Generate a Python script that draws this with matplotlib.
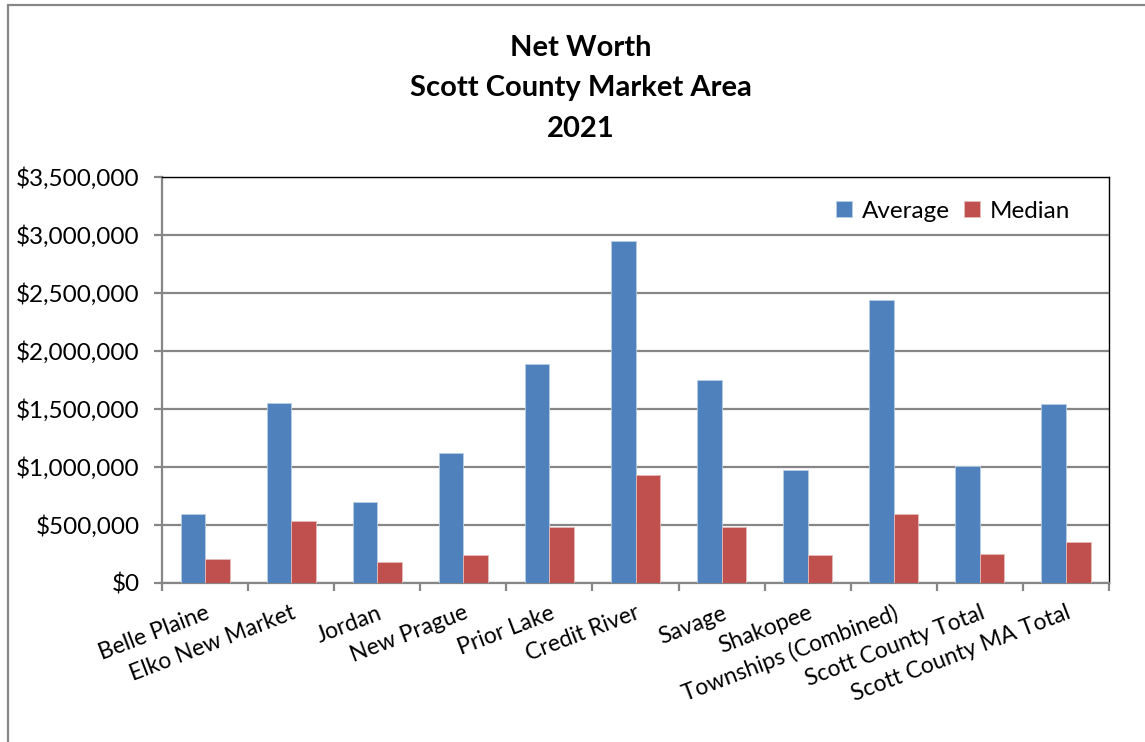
import matplotlib.pyplot as plt
import numpy as np
from matplotlib.ticker import FuncFormatter
from matplotlib.patches import Rectangle

plt.rcParams['font.family'] = ['Lato', 'DejaVu Sans']

# Datos
categorias = ['Belle Plaine', 'Elko New Market', 'Jordan', 'New Prague', 'Prior Lake',
              'Credit River', 'Savage', 'Shakopee', 'Townships (Combined)',
              'Scott County Total', 'Scott County MA Total']
promedio = [592000, 1550000, 696000, 1121000, 1890000, 2946000, 1753000, 974000,
            2440000, 1006000, 1546000]
mediana = [204000, 534000, 181000, 239000, 480000, 928000, 483000, 239000,
           595000, 250000, 353000]
ticks_y = [0, 500000, 1000000, 1500000, 2000000, 2500000, 3000000, 3500000]

azul = '#4F81BD'
rojo = '#C0504D'
gris = '#868686'

fig = plt.figure(figsize=(11.45, 7.42), dpi=100)
ax = fig.add_axes([0.1415, 0.2143, 0.9686 - 0.1415, 0.7615 - 0.2143])

x = np.arange(len(categorias))
ancho = 0.285
ax.bar(x - ancho / 2, promedio, ancho, color=azul, edgecolor='#B9CDE5', linewidth=0.6,
       label='Average', zorder=3)
ax.bar(x + ancho / 2, mediana, ancho, color=rojo, edgecolor='#E6B9B8', linewidth=0.6,
       label='Median', zorder=3)

ax.set_xlim(-0.5, len(categorias) - 0.5)
ax.set_ylim(0, 3500000)
ax.set_yticks(ticks_y)
ax.yaxis.set_major_formatter(FuncFormatter(lambda v, p: '${:,.0f}'.format(v)))
ax.grid(axis='y', color=gris, linewidth=1.6, zorder=0)

ax.set_xticks(x)
ax.set_xticklabels(categorias, rotation=21, ha='right', rotation_mode='anchor')
ax.set_xticks(np.arange(-0.5, len(categorias)), minor=True)
ax.tick_params(axis='x', which='major', length=0, pad=14, labelsize=16.5)
ax.tick_params(axis='x', which='minor', length=6, width=1.6, color=gris)
ax.tick_params(axis='y', length=6, width=1.6, color=gris, labelsize=17.5, pad=10)

for lado in ['left', 'bottom']:
    ax.spines[lado].set_color(gris)
    ax.spines[lado].set_linewidth(1.6)
for lado in ['top', 'right']:
    ax.spines[lado].set_color('black')
    ax.spines[lado].set_linewidth(1.0)

ax.legend(loc='upper right', bbox_to_anchor=(0.982, 0.995), ncol=2, frameon=False,
          fontsize=17.5, handlelength=0.65, handleheight=0.65, columnspacing=0.6,
          handletextpad=0.4)

fig.text(0.507, 0.881, 'Net Worth\nScott County Market Area\n2021', ha='center',
         va='center', fontsize=21, fontweight='bold', linespacing=1.68)

# Marco del grafico
fig.patches.append(Rectangle((0.0073, -0.05), 1.2, 0.9926 + 0.05, transform=fig.transFigure,
                             fill=False, edgecolor=gris, linewidth=1.6))

fig.savefig('out.png', dpi=100)
